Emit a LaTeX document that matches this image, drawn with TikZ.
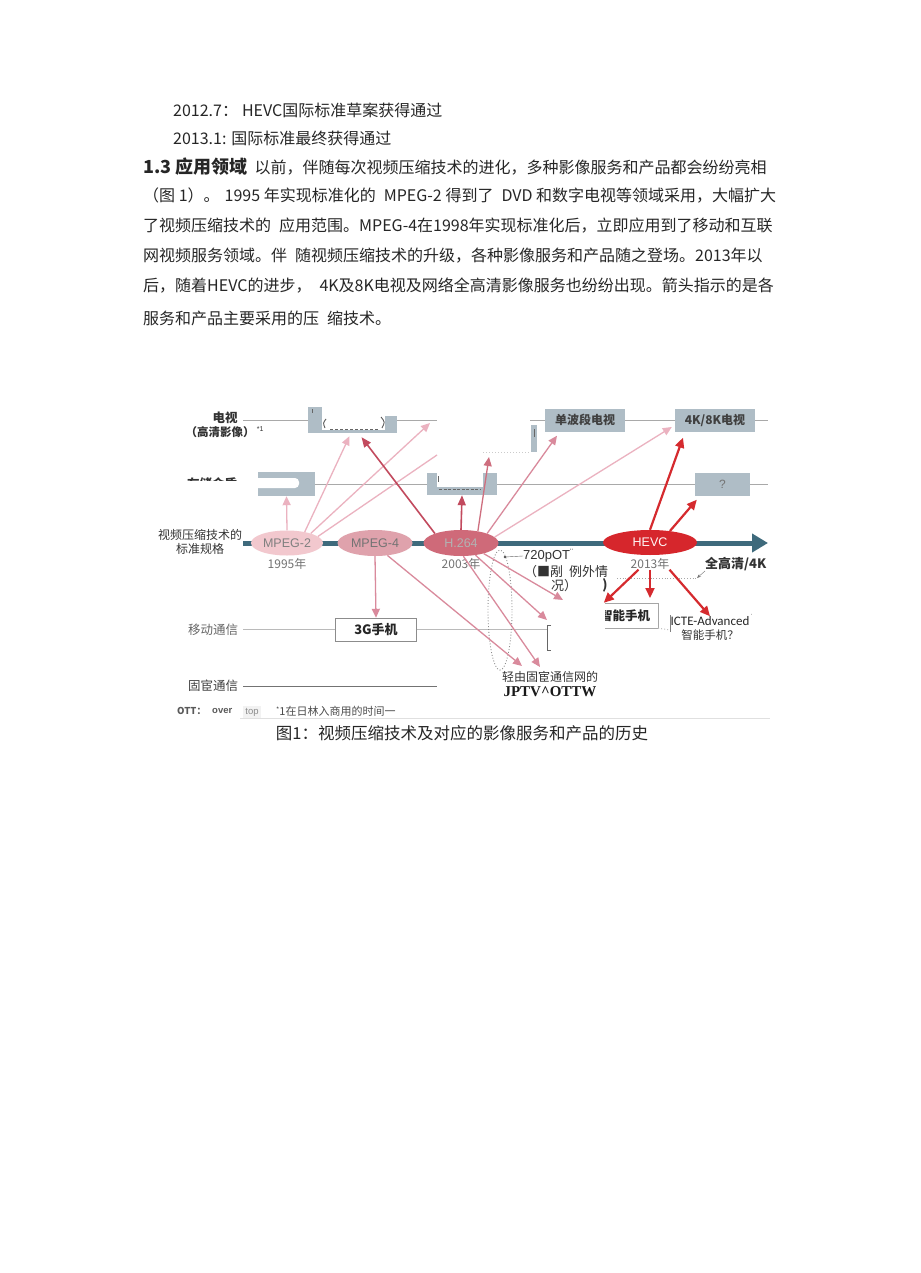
\documentclass[tikz,border=0pt]{standalone}
\usepackage{fontspec}
\usepackage{xcolor}
\usepackage{tikz}
\usetikzlibrary{shapes.geometric}
\usetikzlibrary{arrows.meta}
\usetikzlibrary{positioning}

\setmainfont{Liberation Sans}
\newfontfamily\cjk{Noto Sans CJK SC}
\newfontfamily\arialf{Liberation Sans}
\newfontfamily\timesf{Liberation Serif}
\newfontfamily\calf{Carlito}
\XeTeXlinebreaklocale "zh"
\XeTeXlinebreakskip=0pt plus 1pt

\definecolor{boxgray}{HTML}{AFBDC6}
\definecolor{axisblue}{HTML}{3E6A7C}
\definecolor{mpegtwo}{HTML}{F2C8CE}
\definecolor{mpegfour}{HTML}{DFA2AC}
\definecolor{hfill}{HTML}{CF6A79}
\definecolor{hevcfill}{HTML}{D6262C}
\definecolor{arrlight}{HTML}{EBB2C0}
\definecolor{arrmid}{HTML}{D98A9C}
\definecolor{arrdark}{HTML}{C24A5E}
\definecolor{arrred}{HTML}{D52A2E}
\definecolor{rowgray}{HTML}{A9A9A9}

\tikzset{
  para/.style={anchor=west, inner sep=0, font=\cjk\fontsize{16}{19}\selectfont, text=black!85},
  lbl/.style={inner sep=0, font=\cjk\fontsize{12}{14}\selectfont, text=black!80},
  svcbox/.style={fill=boxgray, minimum width=80, minimum height=23, inner sep=0,
    font=\cjk\bfseries\fontsize{12}{14}\selectfont, text=black!75},
  std/.style={ellipse, minimum height=25, inner sep=0, font=\arialf\fontsize{12.5}{14}\selectfont},
  yr/.style={inner sep=0, font=\cjk\fontsize{12}{14}\selectfont, text=black!55},
  row/.style={draw=rowgray, line width=1pt},
  pkl/.style={draw=arrlight, line width=1.3pt, -{Triangle[length=9pt,width=8pt]}},
  pkm/.style={draw=arrmid, line width=1.3pt, -{Triangle[length=9pt,width=8pt]}},
  pkd/.style={draw=arrdark, line width=1.6pt, -{Triangle[length=10pt,width=8pt]}},
  hevcarr/.style={draw=arrred, line width=2.2pt, -{Triangle[length=10pt,width=9pt]}},
  axis/.style={draw=axisblue, line width=5pt, -{Triangle[length=16pt,width=18pt]}}
}

\begin{document}
\begin{tikzpicture}[x=1pt,y=-1pt]
  \path[use as bounding box, fill=white] (0,0) rectangle (920,1273);

  % texto de arriba
  \node[para] (l1) at (173,110) {2012.7：\hspace{4pt}HEVC国际标准草案获得通过};
  \node[para] (l2) at (173,138) {2013.1: 国际标准最终获得通过};
  \node[para] (l3) at (143,167) {\makebox[629pt][s]{\mbox{\bfseries\fontsize{18}{20}\selectfont 1.3 应用领域}\hspace{7pt}以前，伴随每次视频压缩技术的进化，多种影像服务和产品都会纷纷亮相}};
  \node[para] (l4) at (143,196) {\makebox[633pt][s]{（图 1）。\hspace{5pt}1995 年实现标准化的\hspace{8pt}MPEG-2 得到了\hspace{8pt}DVD 和数字电视等领域采用，大幅扩大}};
  \node[para] (l5) at (143,226) {\makebox[629pt][s]{了视频压缩技术的\hspace{8pt}应用范围。MPEG-4在1998年实现标准化后，立即应用到了移动和互联}};
  \node[para] (l6) at (143,256) {\makebox[629pt][s]{网视频服务领域。伴\hspace{8pt}随视频压缩技术的升级，各种影像服务和产品随之登场。2013年以}};
  \node[para] (l7) at (143,286) {\makebox[629pt][s]{后，随着HEVC的进步，\hspace{8pt}4K及8K电视及网络全高清影像服务也纷纷出现。箭头指示的是各}};
  \node[para] (l8) at (143,318) {服务和产品主要采用的压\hspace{8pt}缩技术。};

  % etiquetas de filas
  \node[lbl, font=\cjk\bfseries\fontsize{12.5}{14}\selectfont] (tvlbl) at (225,418) {电视};
  \node[lbl, font=\cjk\bfseries\fontsize{11.5}{14}\selectfont] (tvsub) at (220,432) {（高清影像）};
  \node[lbl, font=\arialf\fontsize{7}{8}\selectfont, right=2pt of tvsub, yshift=3pt] (tvnote) {*1};
  \begin{scope}
    \clip (180,470) rectangle (245,480);
    \node[lbl, font=\cjk\bfseries\fontsize{12.5}{14}\selectfont] (stlbl) at (212,484) {存储介质};
  \end{scope}
  \node[lbl, align=center] (stdlbl) at (200,542) {视频压缩技术的\\标准规格};
  \node[lbl, text=black!60, font=\cjk\fontsize{12.5}{14}\selectfont] (moblbl) at (213,629.5) {移动通信};
  \node[lbl, text=black!75, font=\cjk\fontsize{12.5}{14}\selectfont] (fixlbl) at (213,686) {固宦通信};

  % extremos libres
  \coordinate (tv0) at (243,420);
  \coordinate (tv1) at (437,420);
  \coordinate (tv2) at (530,420);
  \coordinate (tv3) at (768,420);
  \coordinate (st1) at (768,484);
  \coordinate (mob0) at (243,629.5);
  \coordinate (mob1) at (547,629.5);
  \coordinate (fix0) at (243,686);
  \coordinate (fix1) at (437,686);
  \coordinate (ax0) at (243,543);
  \coordinate (ax1) at (768,543);

  % cajas de servicios
  \node[svcbox, minimum width=89, minimum height=26] (tvbox) at (352.5,420) {};
  \node[svcbox, minimum width=57, minimum height=24] (sbox1) at (286.5,484) {};
  \node[svcbox, minimum width=70, minimum height=22] (sbox2) at (462,484) {};
  \node[svcbox, minimum width=6, minimum height=27] (tvbar) at (533.5,438.5) {};
  \node[svcbox] (bandbox) at (585,420) {单波段电视};
  \node[svcbox] (uhdbox) at (715,420) {4K/8K电视};
  \node[svcbox, minimum width=55, font=\arialf\fontsize{12}{14}\selectfont, text=black!55] (qbox) at (722.5,484) {?};
  \node[draw=black!45, fill=white, minimum width=81, minimum height=23, inner sep=0,
    font=\cjk\bfseries\fontsize{13}{14}\selectfont, text=black!85] (g3box) at (376,629.5) {3G手机};

  % zonas borradas
  \fill[white] (322,406) rectangle (385,430);
  \fill[white] (385,406) rectangle (398,416);
  \draw[black!65, line width=0.9pt] (326,419) .. controls (323,423) .. (325,428);
  \draw[black!65, line width=0.9pt] (381,417) .. controls (385,422) .. (382,428);
  \draw[black!60, line width=1pt, dash pattern=on 3pt off 2pt] (330,429) -- (378,429);
  \draw[black!60] (312,409) -- (312,413);
  \fill[white, rounded corners=4pt] (250,478) rectangle (299,488);
  \fill[white] (437,471) rectangle (483,487);
  \draw[black!60, line width=1pt, dash pattern=on 3pt off 1.5pt] (439,489) -- (481,489);
  \draw[black!60] (438,476) -- (438,482);
  \draw[black!60, line width=1pt] (534,429) -- (534,437);

  % lineas de filas
  \draw[row] (tv0) -- (tvbox.west);
  \draw[row] (tvbox.east) -- (tv1);
  \draw[row] (tv2) -- (bandbox.west);
  \draw[row] (bandbox.east) -- (uhdbox.west);
  \draw[row] (uhdbox.east) -- (tv3);
  \draw[row] (sbox1.east) -- (sbox2.west);
  \draw[row] (sbox2.east) -- (qbox.west);
  \draw[row] (qbox.east) -- (st1);
  \draw[rowgray!60, dotted, line width=1pt] (483,452) -- (530,452);
  \draw[row, draw=rowgray!80] (mob0) -- (g3box.west);
  \draw[row, draw=rowgray!80] (g3box.east) -- (mob1);
  \draw[black!60, line width=0.8pt] (551,625) -- (547,625) -- (547,650) -- (551,650);
  \draw[row, draw=black!55] (fix0) -- (fix1);

  % eje de estandares
  \draw[axis] (ax0) -- (ax1);
  \node[std, fill=mpegtwo, minimum width=72, text=black!50] (mp2) at (287,543) {MPEG-2};
  \node[std, fill=mpegfour, minimum width=75, minimum height=26, text=black!55] (mp4) at (375,543) {MPEG-4};
  \node[std, fill=hfill, minimum width=75, minimum height=26, text=black!30] (h264) at (461,543) {H.264};
  \node[std, fill=hevcfill, minimum width=94, text=white!85!pink] (hevc) at (650,542.5) {HEVC};
  \node[yr, below=2pt of mp2] (y1995) {1995年};
  \node[yr, below=2pt of h264] (y2003) {2003年};
  \node[yr, below=3pt of hevc] (y2013) {2013年};

  % notas de la derecha
  \node[ellipse, draw=black!45, dotted, line width=0.9pt, minimum width=24, minimum height=120, inner sep=0] (grp) at (500,610) {};
  \coordinate (grpdot) at (505,557);
  \node[lbl, anchor=west, font=\arialf\fontsize{13}{14}\selectfont, text=black!80] (p720) at (523,556) {720pOT\textsuperscript{¨}};
  \node[lbl, anchor=west, font=\cjk\fontsize{13}{15}\selectfont] (exc1) at (524,572) {（■剐\hspace{6pt}例外情};
  \node[lbl, anchor=west, font=\cjk\fontsize{13}{15}\selectfont] (exc2) at (551,586) {况）};
  \node[lbl, font=\cjk\bfseries\fontsize{13}{15}\selectfont] (frag) at (605,585) {)};
  \fill[black!70] (grpdot) circle (1.3);
  \draw[black!60] (grpdot) -- (p720.west);
  \node[lbl, anchor=west, font=\cjk\bfseries\fontsize{13}{15}\selectfont] (fhd) at (705,564) {全高清/4K};
  \coordinate (hdpt) at (697,578);
  \coordinate (hdl) at (617,578);
  \draw[black!35, dotted, line width=0.8pt] (hdl) -- (hdpt);
  \draw[black!55, -{Stealth[length=4pt,width=3pt]}] (fhd.south west) -- (hdpt);

  \begin{scope}
    \clip (605,600) rectangle (662,632);
    \node[draw=black!35, fill=white, minimum width=64, minimum height=25, inner sep=0] (smbox) at (626,615.5) {};
    \node[lbl, font=\cjk\bfseries\fontsize{12.5}{14}\selectfont, text=black!85] (smtxt) at (625,616) {智能手机};
  \end{scope}
  \draw[rowgray!70, dotted, line width=1pt] (smbox.south east) -- (670,630);
  \draw[black!50, line width=0.8pt] (670,615) -- (670,632);
  \node[lbl, font=\calf\fontsize{13}{14}\selectfont, text=black!85] (lte) at (710,621) {ICTE-Advanced};
  \node[lbl, font=\arialf\fontsize{7}{8}\selectfont, right=1pt of lte, yshift=4pt] (ltenote) {˙};
  \node[lbl, below=4pt of lte, font=\cjk\fontsize{11.5}{13}\selectfont] (ltesm) {智能手机？};
  \node[lbl, font=\cjk\fontsize{12}{14}\selectfont] (iptv1) at (550,677) {轻由固宦通信网的};
  \node[lbl, font=\timesf\bfseries\fontsize{15}{16}\selectfont, text=black!90] (iptv2) at (550,692) {JPTV\^{}OTTW};

  % flechas
  \coordinate (tvtip) at (430,423);
  \coordinate (cut4) at (437,455);
  \coordinate (sttip) at (489,457);
  \coordinate (p720tip) at (563,600);
  \coordinate (mobtip) at (547,620);
  \coordinate (iptvtip1) at (522,666);
  \coordinate (iptvtip2) at (540,667);
  \coordinate (smtip) at (650,598);

  \draw[pkl] (mp2.north) -- (sbox1.south);
  \draw[pkl] (mp2.32) -- ([xshift=-3pt,yshift=-3pt]tvbox.south);
  \draw[pkl] (mp2.22) -- (tvtip);
  \draw[draw=arrlight, line width=1.3pt] (mp2.12) -- (cut4);

  \draw[pkm] (mp4.south) -- (g3box.north);
  \draw[pkm] (mp4.-45) -- (iptvtip1);

  \draw[pkd] (h264.160) -- ([xshift=9pt,yshift=-4pt]tvbox.south);
  \draw[pkd] (h264.north) -- (sbox2.south);
  \draw[pkm, draw=arrdark!80] (h264.35) -- (sttip);
  \draw[pkm] (h264.20) -- ([xshift=-28pt,yshift=-4pt]bandbox.south);
  \draw[pkl] (h264.10) -- ([xshift=-3pt,yshift=-7pt]uhdbox.west);
  \draw[pkm] (h264.-25) -- (p720tip);
  \draw[pkm] (h264.-40) -- (mobtip);
  \draw[pkm] (h264.-80) -- (iptvtip2);

  \draw[hevcarr] (hevc.north) -- ([xshift=-32pt,yshift=-6pt]uhdbox.south);
  \draw[hevcarr] (hevc.30) -- ([xshift=2pt,yshift=-4pt]qbox.south west);
  \draw[hevcarr] ([xshift=8pt]y2013.south west) -- ([xshift=10pt]smbox.north west);
  \draw[hevcarr] (y2013.south) -- (smtip);
  \draw[hevcarr] (y2013.south east) -- (lte.north);

  % nota al pie y titulo
  \node[lbl, anchor=west, font=\cjk\bfseries\fontsize{9.5}{11}\selectfont, text=black!65] (ott) at (177,711) {OTT：};
  \node[lbl, anchor=west, font=\arialf\bfseries\fontsize{9.5}{11}\selectfont, text=black!65] (over) at (212,711) {over};
  \node[lbl, fill=black!5, inner sep=2pt, font=\arialf\fontsize{9.5}{11}\selectfont, text=black!45] (top) at (252,712) {top};
  \node[lbl, anchor=west, font=\cjk\fontsize{11}{12}\selectfont, text=black!70] (fn1) at (276,711) {\raisebox{3pt}{\fontsize{7}{8}\selectfont *}1在日林入商用的时间一};
  \draw[black!12] (240,718) -- (770,718);
  \node[lbl, font=\cjk\fontsize{16.5}{19}\selectfont, text=black!85] (cap) at (462,733) {图1：视频压缩技术及对应的影像服务和产品的历史};
\end{tikzpicture}
\end{document}
